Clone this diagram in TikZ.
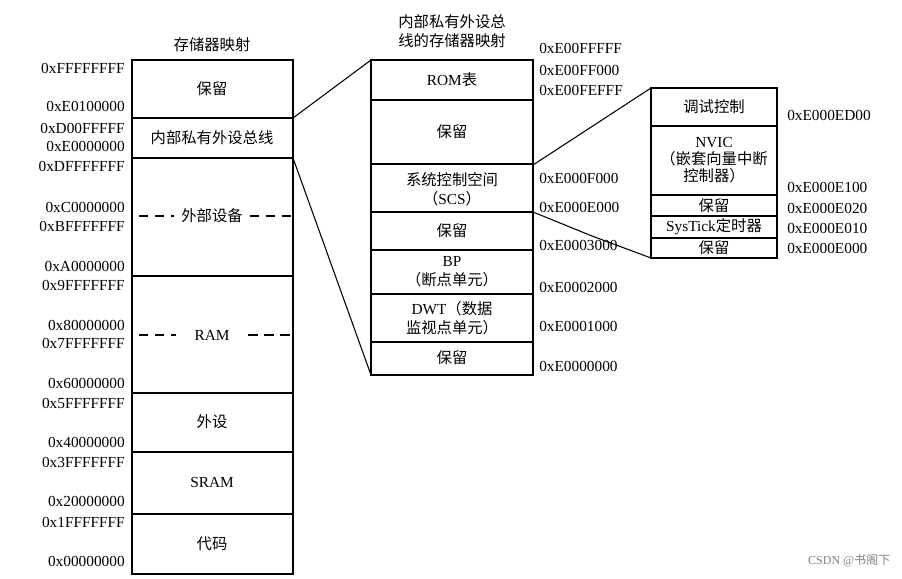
\documentclass[tikz,border=0pt]{standalone}
\usepackage{fontspec}
\setmainfont{Liberation Serif}
\newfontfamily\cjk{Noto Sans CJK SC}
\begin{document}
\begin{tikzpicture}[x=0.75pt,y=-0.75pt,
  lbl/.style={font=\fontsize{11.5}{12}\selectfont,inner sep=0pt},
  cell/.style={font=\fontsize{11.5}{14}\selectfont,inner sep=0pt,align=center},
  link/.style={thick}]
\useasboundingbox (0,0) rectangle (902,578);
% left box
\foreach \a/\b in {60/118,118/158,158/276,276/393,393/452,452/514,514/574}
  \draw[thick] (132,\a) rectangle (293,\b);
\node[cell] at (212,89) {\cjk 保留};
\node[cell] at (212,138) {\cjk 内部私有外设总线};
\node[cell,inner xsep=5pt] (ext) at (212,216) {\cjk 外部设备};
\node[cell,inner xsep=14pt] (ram) at (212,335) {RAM};
\node[cell] at (212,482) {SRAM};
\node[cell] at (212,422) {\cjk 外设};
\node[cell] at (212,544) {\cjk 代码};
\draw[thick,dash pattern=on 7pt off 5pt] (139,216) -- (ext.west);
\draw[thick,dash pattern=on 7pt off 5pt] (ext.east) -- (293,216);
\draw[thick,dash pattern=on 7pt off 5pt] (139,335) -- (ram.west);
\draw[thick,dash pattern=on 7pt off 5pt] (ram.east) -- (293,335);
\node[cell] at (212,45) {\cjk 存储器映射};
\foreach \y/\t in {68/0xFFFFFFFF,106/0xE0100000,128/0xD00FFFFF,146/0xE0000000,166/0xDFFFFFFF,207/0xC0000000,226/0xBFFFFFFF,266/0xA0000000,285/0x9FFFFFFF,325/0x80000000,343/0x7FFFFFFF,383/0x60000000,403/0x5FFFFFFF,442/0x40000000,462/0x3FFFFFFF,501/0x20000000,522/0x1FFFFFFF,561/0x00000000}
  \node[lbl,anchor=east] at (125,\y) {\t};
% middle box
\foreach \a/\b in {60/100,100/164,164/212,212/250,250/294,294/342,342/375}
  \draw[thick] (371,\a) rectangle (533,\b);
\node[cell] at (452,80) {ROM\cjk 表};
\node[cell] at (452,132) {\cjk 保留};
\node[cell] at (452,189) {{\cjk 系统控制空间}\\{\cjk （}SCS{\cjk ）}};
\node[cell] at (452,231) {\cjk 保留};
\node[cell] at (452,272) {BP\\{\cjk （断点单元）}};
\node[cell] at (452,318) {DWT{\cjk （数据}\\{\cjk 监视点单元）}};
\node[cell] at (452,358) {\cjk 保留};
\node[cell] at (452,31) {{\cjk 内部私有外设总}\\{\cjk 线的存储器映射}};
\foreach \y/\t in {48/0xE00FFFFF,70/0xE00FF000,90/0xE00FEFFF,178/0xE000F000,207/0xE000E000,245/0xE0003000,287/0xE0002000,326/0xE0001000,366/0xE0000000}
  \node[lbl,anchor=west] at (539,\y) {\t};
% right box
\foreach \a/\b in {88/126,126/195,195/216,216/238,238/258}
  \draw[thick] (651,\a) rectangle (777,\b);
\node[cell] at (714,107) {\cjk 调试控制};
\node[cell] at (714,160) {NVIC\\[-1pt]{\cjk （嵌套向量中断}\\[-1pt]{\cjk 控制器）}};
\node[cell] at (714,206) {\cjk 保留};
\node[cell] at (714,227) {SysTick{\cjk 定时器}};
\node[cell] at (714,248) {\cjk 保留};
\foreach \y/\t in {115/0xE000ED00,187/0xE000E100,208/0xE000E020,228/0xE000E010,248/0xE000E000}
  \node[lbl,anchor=west] at (787,\y) {\t};
% links
\coordinate (a1) at (293,118); \coordinate (b1) at (371,60);
\coordinate (a2) at (293,158); \coordinate (b2) at (371,375);
\coordinate (c1) at (533,165); \coordinate (d1) at (651,88);
\coordinate (c2) at (533,212); \coordinate (d2) at (651,258);
\draw[link] (a1) -- (b1);
\draw[link] (a2) -- (b2);
\draw[link] (c1) -- (d1);
\draw[link] (c2) -- (592,236) -- (d2);
\node[font=\fontsize{9}{10}\selectfont,text=gray,anchor=east] at (895,561) {CSDN @\cjk 书阁下};
\end{tikzpicture}
\end{document}
